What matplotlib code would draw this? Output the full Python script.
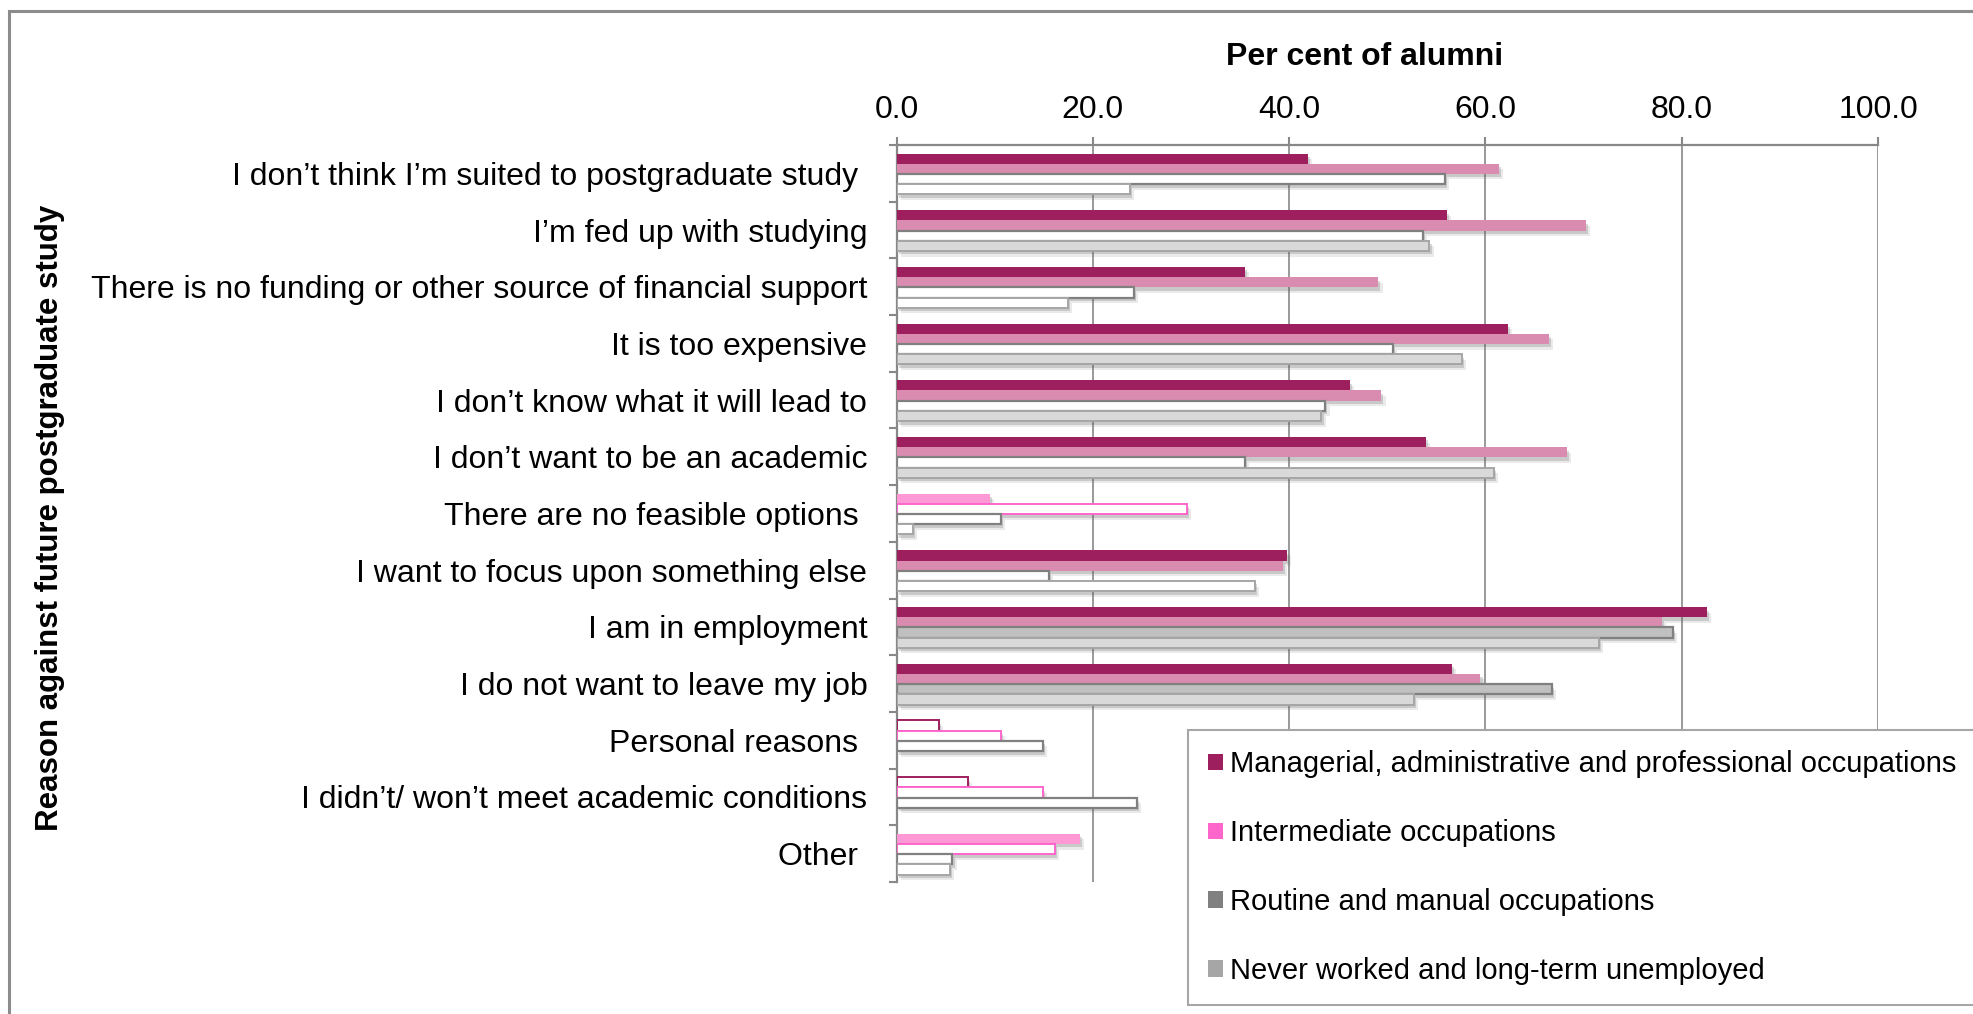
import numpy as np
import matplotlib
matplotlib.use('Agg')
import matplotlib.pyplot as plt
import matplotlib.patheffects as pe
from matplotlib.patches import Patch, Rectangle

plt.rcParams['font.family'] = ['Liberation Sans', 'DejaVu Sans']

# Data
reasons = ['I don\u2019t think I\u2019m suited to postgraduate study ',
           'I\u2019m fed up with studying',
           'There is no funding or other source of financial support',
           'It is too expensive',
           'I don\u2019t know what it will lead to',
           'I don\u2019t want to be an academic',
           'There are no feasible options ',
           'I want to focus upon something else',
           'I am in employment',
           'I do not want to leave my job',
           'Personal reasons ',
           'I didn\u2019t/ won\u2019t meet academic conditions',
           'Other ']

seriesNames = ['Managerial, administrative and professional occupations',
               'Intermediate occupations',
               'Routine and manual occupations',
               'Never worked and long-term unemployed']

managerial = [41.9, 56.1, 35.5, 62.3, 46.2, 53.9, 9.5, 39.8, 82.6, 56.6, 4.3, 7.3, 18.7]
intermediate = [61.4, 70.2, 49.1, 66.5, 49.4, 68.3, 29.6, 39.4, 78.0, 59.5, 10.6, 14.9, 16.1]
routine = [55.9, 53.6, 24.2, 50.6, 43.7, 35.5, 10.6, 15.5, 79.1, 66.8, 14.9, 24.5, 5.7]
neverWorked = [23.8, 54.3, 17.5, 57.6, 43.3, 60.9, 1.7, 36.5, 71.6, 52.7, np.nan, np.nan, 5.4]

# bar kind: S = solid, O = outline only, L = light fill
managerialKind = ['S', 'S', 'S', 'S', 'S', 'S', 'L', 'S', 'S', 'S', 'O', 'O', 'L']
intermediateKind = ['S', 'S', 'S', 'S', 'S', 'S', 'O', 'S', 'S', 'S', 'O', 'O', 'O']
routineKind = ['O', 'O', 'O', 'O', 'O', 'O', 'O', 'O', 'S', 'S', 'O', 'O', 'O']
neverWorkedKind = ['O', 'S', 'O', 'S', 'S', 'S', 'O', 'O', 'S', 'S', 'O', 'O', 'O']

# Styles: kind -> (face, edge, linewidth)
styles = [
    {'S': ('#9E1F5E', '#9E1F5E', 0), 'L': ('#FF99D6', '#FF99D6', 0), 'O': ('white', '#9E1F5E', 1.4)},
    {'S': ('#D98CB0', '#D98CB0', 0), 'L': ('#FF99D6', '#FF99D6', 0), 'O': ('white', '#FF66CC', 1.4)},
    {'S': ('#C0C0C0', '#808080', 1.6), 'L': ('#C0C0C0', '#808080', 1.6), 'O': ('white', '#808080', 1.6)},
    {'S': ('#D9D9D9', '#A6A6A6', 1.4), 'L': ('#D9D9D9', '#A6A6A6', 1.4), 'O': ('white', '#A6A6A6', 1.4)},
]
legendColours = ['#9E1F5E', '#FF66CC', '#808080', '#A6A6A6']
gridColour = '#888888'

W, H = 1973, 1014
fig = plt.figure(figsize=(W / 100, H / 100), dpi=100)
ax = fig.add_axes([896.5 / W, 1 - 882 / H, (1878 - 896.5) / W, (882 - 145) / H])

# Outer frame
fig.patches.append(Rectangle((9 / W, -0.05), 1.2, 1 - 11 / H + 0.05, transform=fig.transFigure,
                             fill=False, edgecolor='#8C8C8C', linewidth=2.2, zorder=0))

nCat = len(reasons)
barH = 0.18
centres = np.arange(nCat) + 0.5
allValues = [managerial, intermediate, routine, neverWorked]
allKinds = [managerialKind, intermediateKind, routineKind, neverWorkedKind]

# soft drop shadow, two layers
shadow = [pe.SimplePatchShadow(offset=(3, -4), shadow_rgbFace='#777777', alpha=0.15),
          pe.SimplePatchShadow(offset=(1.5, -2.5), shadow_rgbFace='#555555', alpha=0.22),
          pe.Normal()]

for s in range(4):
    ys = centres + (s - 1.5) * barH + 0.01
    faces = [styles[s][k][0] for k in allKinds[s]]
    edges = [styles[s][k][1] for k in allKinds[s]]
    widths = [styles[s][k][2] for k in allKinds[s]]
    bars = ax.barh(ys, allValues[s], height=barH, color=faces, edgecolor=edges,
                   linewidth=widths, zorder=3)
    for b in bars:
        b.set_path_effects(shadow)

# Axes
ax.set_xlim(0, 100)
ax.set_ylim(nCat, 0)
ax.xaxis.tick_top()
ax.set_xticks(np.arange(0, 101, 20))
ax.set_xticklabels(['{0:.1f}'.format(v) for v in np.arange(0, 101, 20)])
ax.tick_params(axis='x', which='major', direction='out', length=6, width=1.5,
               color=gridColour, labelsize=23, pad=8.5)
ax.set_yticks(np.arange(0, nCat + 1))
ax.set_yticklabels([])
ax.tick_params(axis='y', which='major', direction='out', length=6, width=1.5, color=gridColour)
ax.set_yticks(centres, minor=True)
ax.set_yticklabels(reasons, minor=True)
ax.tick_params(axis='y', which='minor', length=0, labelsize=23, pad=21)

ax.grid(axis='x', color=gridColour, linewidth=1.2, zorder=1)
ax.set_axisbelow(True)
for side in ['right', 'bottom']:
    ax.spines[side].set_visible(False)
for side in ['top', 'left']:
    ax.spines[side].set_color(gridColour)
    ax.spines[side].set_linewidth(1.6)

fig.text(1365 / W, 1 - 57 / H, 'Per cent of alumni', ha='center', va='center',
         fontsize=23, fontweight='bold')
fig.text(50 / W, 1 - 518 / H, 'Reason against future postgraduate study', ha='center',
         va='center', rotation=90, fontsize=22.5, fontweight='bold')

handles = [Patch(facecolor=c, edgecolor='none') for c in legendColours]
leg = fig.legend(handles, seriesNames, loc='upper left', bbox_to_anchor=(1188 / W, 1 - 730 / H),
                 bbox_transform=fig.transFigure, fontsize=21, frameon=True, fancybox=False,
                 edgecolor='#A6A6A6', framealpha=1, borderaxespad=0, borderpad=0.7,
                 handlelength=0.5, handleheight=0.5, handletextpad=0.25, labelspacing=1.4)
leg.get_frame().set_linewidth(1.5)

fig.savefig('out.png', dpi=100)
